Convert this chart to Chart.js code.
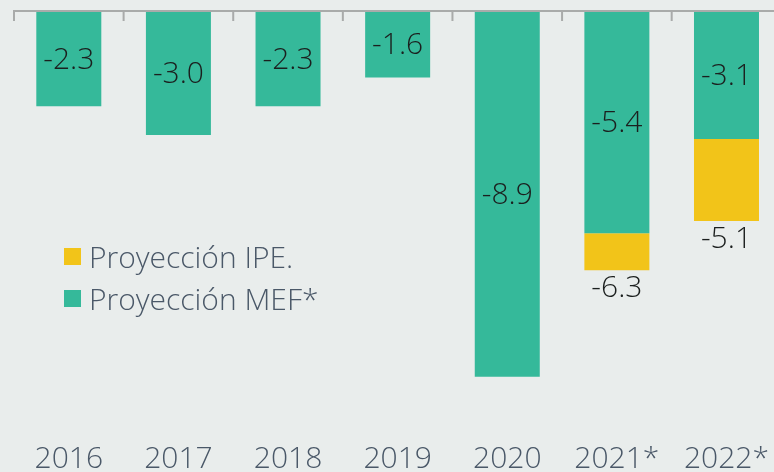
<!DOCTYPE html>
<html lang="es">
<head>
  <meta charset="UTF-8" />
  <title>Déficit fiscal</title>
  <script src="https://cdn.jsdelivr.net/npm/chart.js"></script>
  <style>
    html, body { margin: 0; padding: 0; background: #e9edec; overflow: hidden; }
    #wrap { position: relative; width: 784px; height: 472px; }
    #legend { position: absolute; left: 64px; top: 235px; font-family: "Open Sans", "Noto Sans", sans-serif; font-weight: 300; font-size: 30px; color: #4a5868; }
    #legend div { display: flex; align-items: center; height: 42px; }
    #legend span.box { display: inline-block; width: 17px; height: 17px; margin-right: 8px; }
  </style>
</head>
<body>
  <div id="wrap">
    <canvas id="chart" width="784" height="472"></canvas>
    <div id="legend">
      <div><span class="box" style="background:#f2c419"></span>Proyección IPE.</div>
      <div><span class="box" style="background:#35b99a"></span>Proyección MEF*</div>
    </div>
  </div>
  <script>
    // datos (% del PBI)
    const years = ['2016', '2017', '2018', '2019', '2020', '2021*', '2022*'];
    const mef = [-2.3, -3.0, -2.3, -1.6, -8.9, -5.4, -3.1];
    const ipe = [null, null, null, null, null, -6.3, -5.1];

    const teal = '#35b99a';
    const yellow = '#f2c419';

    // barra amarilla flotante: desde el valor MEF hasta el valor IPE
    const ipeBars = ipe.map((v, i) => v == null ? null : [mef[i], v]);

    // eje superior con marcas + etiquetas de valores
    const extras = {
      id: 'extras',
      afterDatasetsDraw(chart) {
        const ctx = chart.ctx;
        const area = chart.chartArea;
        const x = chart.scales.x;
        const y0 = chart.scales.y.getPixelForValue(0);
        ctx.save();
        ctx.strokeStyle = '#a9abaa';
        ctx.lineWidth = 2;
        ctx.beginPath();
        ctx.moveTo(area.left, y0 - 1);
        ctx.lineTo(area.right, y0 - 1);
        const step = (x.getPixelForValue(1) - x.getPixelForValue(0));
        for (let i = 0; i < years.length; i++) {
          const bx = x.getPixelForValue(i) - step / 2;
          ctx.moveTo(bx, y0 - 2);
          ctx.lineTo(bx, y0 + 9);
        }
        ctx.stroke();

        ctx.font = '300 30px "Open Sans", "Noto Sans", sans-serif';
        ctx.fillStyle = '#1b1f1e';
        ctx.textAlign = 'center';
        const m0 = chart.getDatasetMeta(0);
        m0.data.forEach((bar, i) => {
          ctx.textBaseline = 'middle';
          ctx.fillText(mef[i].toFixed(1), bar.x, (bar.y + bar.base) / 2 + 1);
        });
        const m1 = chart.getDatasetMeta(1);
        m1.data.forEach((bar, i) => {
          if (ipe[i] == null) return;
          ctx.textBaseline = 'top';
          ctx.fillText(ipe[i].toFixed(1), bar.x, Math.max(bar.y, bar.base) + 3);
        });
        ctx.restore();
      }
    };

    new Chart(document.getElementById('chart'), {
      type: 'bar',
      data: {
        labels: years,
        datasets: [
          { label: 'Proyección MEF*', data: mef, backgroundColor: teal, barPercentage: 0.593, categoryPercentage: 1 },
          { label: 'Proyección IPE.', data: ipeBars, backgroundColor: yellow, barPercentage: 0.593, categoryPercentage: 1 }
        ]
      },
      options: {
        responsive: false,
        animation: false,
        layout: { padding: { left: 14, right: 0, top: 12, bottom: -20 } },
        plugins: { legend: { display: false }, tooltip: { enabled: false } },
        scales: {
          x: {
            stacked: true,
            grid: { display: false, drawTicks: false },
            border: { display: false },
            ticks: {
              color: '#4a5868',
              padding: 15,
              maxRotation: 0,
              autoSkip: false,
              font: { size: 30, weight: '300', family: '"Open Sans", "Noto Sans", sans-serif', lineHeight: 1.2 }
            }
          },
          y: {
            stacked: false,
            display: false,
            min: -10.1,
            max: 0
          }
        }
      },
      plugins: [extras]
    });
  </script>
</body>
</html>
